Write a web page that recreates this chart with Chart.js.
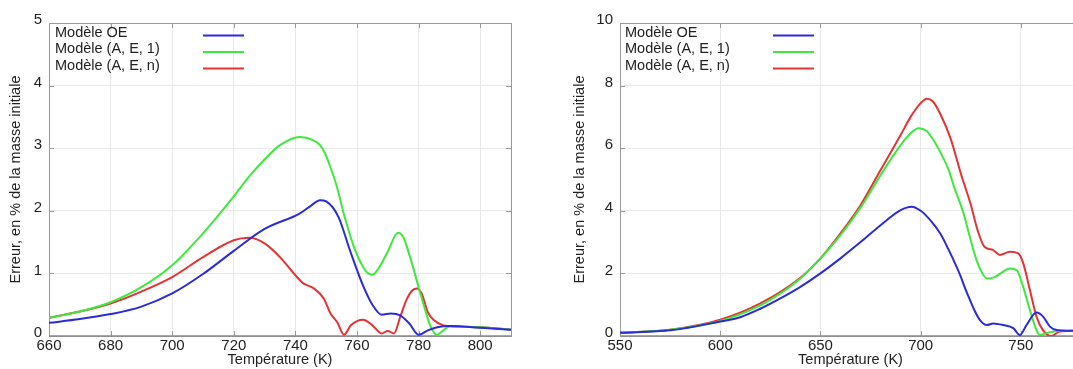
<!DOCTYPE html>
<html><head><meta charset="utf-8">
<script src="https://cdn.jsdelivr.net/npm/chart.js@4.4.0/dist/chart.umd.min.js"></script>
<style>
html,body{margin:0;padding:0;background:#fff;overflow:hidden;width:1073px;height:369px;}
.c{position:absolute;top:0;}
</style></head><body>
<div class="c" style="left:0px"><canvas id="left" width="530" height="369"></canvas></div>
<div class="c" style="left:560px"><canvas id="right" width="530" height="369"></canvas></div>
<script>
const seriesNames = ['Modèle OE', 'Modèle (A, E, 1)', 'Modèle (A, E, n)'];
const seriesColors = ['#2b2bd9', '#3ee83e', '#e33333'];
const xTitle = 'Température (K)';
const yTitle = 'Erreur, en % de la masse initiale';

// ---- Left chart ----
const leftXTicks = [660, 680, 700, 720, 740, 760, 780, 800];
const leftYTicks = [0, 1, 2, 3, 4, 5];
const leftOE_T = [660,670,680,690,700,710,720,730,741.5,745,748,750,754,757.7,762,765,768,771,774,777,780,783,786,790,800,810];
const leftOE_E = [0.21,0.27,0.35,0.47,0.68,0.99,1.36,1.71,1.96,2.08,2.17,2.15,1.9,1.37,0.8,0.5,0.34,0.36,0.33,0.2,0.02,0.09,0.14,0.16,0.13,0.1];
const leftA1_T = [660,670,680,690,700,710,720,725,730,735,741.5,745.7,748,749.6,751.5,753.5,756,759.4,763,765,767,770,773.3,775,777,780,782,784,786,788,790,800,810];
const leftA1_E = [0.29,0.39,0.54,0.78,1.13,1.64,2.23,2.55,2.82,3.05,3.18,3.13,3.05,2.92,2.68,2.38,1.9,1.37,1.03,0.98,1.08,1.35,1.65,1.58,1.3,0.78,0.44,0.14,0.02,0.09,0.15,0.14,0.1];
const leftAn_T = [660,670,680,690,700,710,720,725,730,735,740,742.6,746,749.2,751.4,753.6,755.8,758,762,765,768,770,772,774,776,778,779.5,781,783,785,788,790,800,810];
const leftAn_E = [0.29,0.39,0.52,0.71,0.94,1.26,1.53,1.57,1.48,1.26,0.97,0.84,0.76,0.6,0.36,0.22,0.02,0.17,0.26,0.17,0.04,0.08,0.04,0.3,0.57,0.73,0.76,0.68,0.38,0.25,0.17,0.16,0.14,0.1];

// ---- Right chart ----
const rightXTicks = [550, 600, 650, 700, 750];
const rightYTicks = [0, 2, 4, 6, 8, 10];
const rightOE_T = [550,575,600,610,620,630,640,650,660,670,680,690,695.5,700,704.8,710,714,718,720,722,724.6,727,729.6,733,736.2,741.2,746.2,749.5,752.8,757.8,761.1,764.5,767.8,772.8,780];
const rightOE_E = [0.1,0.18,0.46,0.6,0.87,1.2,1.57,2.0,2.48,3.0,3.54,4.02,4.13,4.0,3.7,3.25,2.75,2.2,1.9,1.55,1.15,0.8,0.51,0.35,0.4,0.35,0.25,0.03,0.35,0.75,0.62,0.3,0.19,0.17,0.17];
const rightA1_T = [550,575,600,620,630,640,650,660,670,680,690,695,699,703,706,710,714,717,721,724,727,730,733,737,741,744.5,748,751,754.5,757.8,759.5,763,770,780];
const rightA1_E = [0.1,0.2,0.48,0.98,1.36,1.84,2.48,3.22,4.1,5.14,6.1,6.48,6.64,6.55,6.3,5.85,5.3,4.7,4.0,3.3,2.6,2.1,1.84,1.88,2.05,2.16,2.1,1.6,0.83,0.19,0.03,0.1,0.17,0.17];
const rightAn_T = [550,575,600,620,640,650,660,670,680,690,695,700,703,706,710,715,720,725,728.4,731.8,736,739.5,744.5,748.7,751.2,754.5,757.8,761,765.3,769.4,780];
const rightAn_E = [0.1,0.2,0.52,1.04,1.86,2.48,3.28,4.18,5.3,6.42,7.0,7.44,7.58,7.5,7.07,6.3,5.2,4.2,3.38,2.85,2.75,2.59,2.69,2.64,2.32,1.47,0.62,0.19,0.0,0.14,0.17];

const FONT = '"Liberation Sans", Arial, sans-serif';

function pairs(T, E) { return T.map((t, i) => ({x: t, y: E[i]})); }

const framePlugin = {
  id: 'frame',
  beforeDatasetsDraw(chart) {
    const {ctx, chartArea: a, scales} = chart;
    ctx.save();
    ctx.strokeStyle = '#9a9a9a';
    ctx.lineWidth = 1;
    ctx.beginPath();
    scales.x.ticks.forEach(t => {
      const px = Math.round(scales.x.getPixelForValue(t.value)) + 0.5;
      ctx.moveTo(px, a.top); ctx.lineTo(px, a.top + 5);
      ctx.moveTo(px, a.bottom); ctx.lineTo(px, a.bottom - 5);
    });
    scales.y.ticks.forEach(t => {
      const py = Math.round(scales.y.getPixelForValue(t.value)) + 0.5;
      ctx.moveTo(a.left, py); ctx.lineTo(a.left + 5, py);
      ctx.moveTo(a.right, py); ctx.lineTo(a.right - 5, py);
    });
    ctx.stroke();
    ctx.strokeRect(Math.round(a.left) + 0.5, Math.round(a.top) + 0.5, Math.round(a.right - a.left), Math.round(a.bottom - a.top));
    ctx.lineWidth = 1.5;
    ctx.strokeStyle = '#8a8a8a';
    ctx.beginPath();
    ctx.moveTo(a.left, a.bottom); ctx.lineTo(a.right, a.bottom);
    ctx.stroke();
    ctx.restore();
  }
};

const legendPlugin = {
  id: 'insideLegend',
  afterDraw(chart, args, opts) {
    const {ctx, chartArea: a} = chart;
    ctx.save();
    ctx.font = '14.5px ' + FONT;
    ctx.textBaseline = 'middle';
    ctx.textAlign = 'left';
    chart.data.datasets.forEach((ds, i) => {
      const ty = a.top + 9.5 + i * 16.5;
      ctx.fillStyle = '#222';
      ctx.fillText(ds.label, a.left + opts.textDx, ty);
      ctx.strokeStyle = ds.borderColor;
      ctx.lineWidth = 2;
      ctx.beginPath();
      ctx.moveTo(a.left + opts.lineDx, ty + 3);
      ctx.lineTo(a.left + opts.lineDx + 41, ty + 3);
      ctx.stroke();
    });
    ctx.restore();
  }
};

function makeChart(id, series, xMin, xMax, xTicks, yMax, yTicks, cfg) {
  const datasets = series.map((s, i) => ({
    label: seriesNames[i],
    data: pairs(s[0], s[1]),
    borderColor: seriesColors[i],
    borderWidth: 2,
    pointRadius: 0,
    fill: false,
    cubicInterpolationMode: 'monotone'
  }));
  return new Chart(document.getElementById(id), {
    type: 'line',
    data: {datasets},
    plugins: [framePlugin, legendPlugin],
    options: {
      responsive: false,
      animation: false,
      devicePixelRatio: 1,
      layout: {padding: {left: 0, right: cfg.padRight, top: 23, bottom: 0}},
      plugins: {
        legend: {display: false},
        tooltip: {enabled: false},
        insideLegend: {textDx: cfg.textDx, lineDx: cfg.lineDx}
      },
      scales: {
        x: {
          type: 'linear', min: xMin, max: xMax,
          afterBuildTicks: sc => { sc.ticks = xTicks.map(v => ({value: v})); },
          afterFit: sc => { sc.height = 33; },
          grid: {color: '#e9e9e9', drawTicks: false},
          border: {display: false},
          ticks: {font: {family: FONT, size: 15}, color: '#222', padding: 1, maxRotation: 0, autoSkip: false},
          title: {display: true, text: xTitle, font: {family: FONT, size: 14.5}, color: '#222', padding: {top: 0, bottom: 0}}
        },
        y: {
          type: 'linear', min: 0, max: yMax,
          afterBuildTicks: sc => { sc.ticks = yTicks.map(v => ({value: v})); },
          afterFit: sc => { sc.width = cfg.yWidth; },
          grid: {color: '#e9e9e9', drawTicks: false},
          border: {display: false},
          ticks: {font: {family: FONT, size: 15}, color: '#222', padding: 7, labelOffset: -3, autoSkip: false},
          title: {display: true, text: yTitle, font: {family: FONT, size: 14.5}, color: '#222', padding: {top: cfg.titlePad, bottom: 0}}
        }
      }
    }
  });
}

makeChart('left', [[leftOE_T, leftOE_E], [leftA1_T, leftA1_E], [leftAn_T, leftAn_E]],
  660, 810, leftXTicks, 5, leftYTicks,
  {padRight: 19, yWidth: 49, titlePad: 7.5, textDx: 6, lineDx: 154});
makeChart('right', [[rightOE_T, rightOE_E], [rightA1_T, rightA1_E], [rightAn_T, rightAn_E]],
  550, 780, rightXTicks, 10, rightYTicks,
  {padRight: 9, yWidth: 60, titlePad: 11.5, textDx: 5, lineDx: 153});
</script>
</body></html>
